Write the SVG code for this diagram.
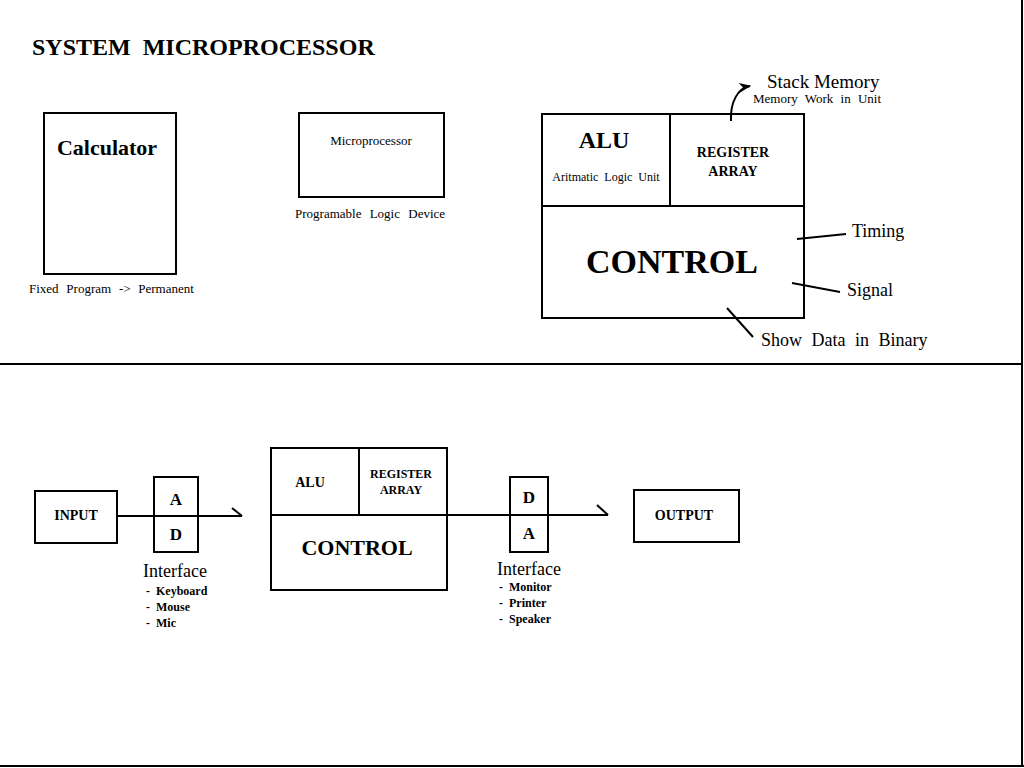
<svg xmlns="http://www.w3.org/2000/svg" width="1024" height="768" viewBox="0 0 1024 768">
<defs>
<style>
.box{fill:none;stroke:#000;stroke-width:2}
.ln{fill:none;stroke:#000;stroke-width:2}
.t{font-family:"Liberation Serif","Times New Roman",serif;fill:#000}
.b{font-weight:bold}
.c{text-anchor:middle}
</style>
<marker id="ah" viewBox="0 0 10 10" refX="9" refY="5" markerWidth="6" markerHeight="6" orient="auto">
<path d="M0,1 L10,5 L0,9 L3,5 Z" fill="#000"/>
</marker>
</defs>
<rect x="0" y="0" width="1024" height="768" fill="#fff"/>
<line x1="1022" y1="0" x2="1022" y2="766" class="ln"/>
<line x1="0" y1="766" x2="1024" y2="766" class="ln"/>
<line x1="0" y1="364" x2="1022" y2="364" class="ln"/>
<text class="t b" x="32" y="55" font-size="24" word-spacing="6">SYSTEM MICROPROCESSOR</text>

<g id="calculator">
<rect class="box" x="44" y="113" width="132" height="161"/>
<text class="t b c" x="107" y="155" font-size="22">Calculator</text>
<text class="t" x="29" y="293" font-size="13" word-spacing="4.5">Fixed Program -&gt; Permanent</text>
</g>

<g id="microprocessor">
<rect class="box" x="299" y="113" width="145" height="84"/>
<text class="t c" x="371" y="145" font-size="13">Microprocessor</text>
<text class="t" x="295" y="218" font-size="13" word-spacing="5">Programable Logic Device</text>
</g>

<g id="cpu-top">
<rect class="box" x="542" y="114" width="262" height="204"/>
<line class="ln" x1="542" y1="206" x2="804" y2="206"/>
<line class="ln" x1="670" y1="114" x2="670" y2="206"/>
<text class="t b c" x="604" y="148" font-size="24">ALU</text>
<text class="t c" x="606" y="181" font-size="12" word-spacing="3">Aritmatic Logic Unit</text>
<text class="t b c" x="733" y="157" font-size="14">REGISTER</text>
<text class="t b c" x="733" y="176" font-size="14">ARRAY</text>
<text class="t b c" x="672" y="273" font-size="34">CONTROL</text>
</g>

<g id="annotations">
<text class="t" x="767" y="88" font-size="19">Stack Memory</text>
<text class="t" x="753" y="103" font-size="13" word-spacing="4">Memory Work in Unit</text>
<text class="t" x="852" y="237" font-size="18">Timing</text>
<text class="t" x="847" y="296" font-size="18">Signal</text>
<text class="t" x="761" y="346" font-size="18" word-spacing="5">Show Data in Binary</text>
</g>

<g id="input">
<rect class="box" x="35" y="491" width="82" height="52"/>
<text class="t b c" x="76" y="520" font-size="14">INPUT</text>
</g>

<g id="ad-interface">
<rect class="box" x="154" y="477" width="44" height="75"/>
<text class="t b c" x="176" y="505" font-size="17">A</text>
<text class="t b c" x="176" y="540" font-size="17">D</text>
<text class="t" x="143" y="577" font-size="18">Interface</text>
<text class="t b" x="146" y="595" font-size="12" xml:space="preserve">-  Keyboard</text>
<text class="t b" x="146" y="611" font-size="12" xml:space="preserve">-  Mouse</text>
<text class="t b" x="146" y="627" font-size="12" xml:space="preserve">-  Mic</text>
</g>

<g id="cpu-bottom">
<rect class="box" x="271" y="448" width="176" height="142"/>
<line class="ln" x1="271" y1="515" x2="447" y2="515"/>
<line class="ln" x1="359" y1="448" x2="359" y2="515"/>
<text class="t b c" x="310" y="487" font-size="14">ALU</text>
<text class="t b c" x="401" y="478" font-size="12">REGISTER</text>
<text class="t b c" x="401" y="494" font-size="12">ARRAY</text>
<text class="t b c" x="357" y="555" font-size="22">CONTROL</text>
</g>

<g id="da-interface">
<rect class="box" x="510" y="477" width="38" height="75"/>
<text class="t b c" x="529" y="503" font-size="17">D</text>
<text class="t b c" x="529" y="539" font-size="17">A</text>
<text class="t" x="497" y="575" font-size="18">Interface</text>
<text class="t b" x="499" y="591" font-size="12" xml:space="preserve">-  Monitor</text>
<text class="t b" x="499" y="607" font-size="12" xml:space="preserve">-  Printer</text>
<text class="t b" x="499" y="623" font-size="12" xml:space="preserve">-  Speaker</text>
</g>

<g id="output">
<rect class="box" x="634" y="490" width="105" height="52"/>
<text class="t b c" x="684" y="520" font-size="14">OUTPUT</text>
</g>

<g id="connectors">
<path class="ln" d="M731,121 C730,102 738,88 750,86" marker-end="url(#ah)"/>
<line class="ln" x1="797" y1="239" x2="846" y2="234"/>
<line class="ln" x1="792" y1="283" x2="840" y2="292"/>
<line class="ln" x1="727" y1="308" x2="753" y2="337"/>
<line class="ln" x1="117" y1="516" x2="242" y2="516"/>
<line class="ln" x1="232" y1="508" x2="242" y2="516"/>
<line class="ln" x1="447" y1="515" x2="608" y2="515"/>
<line class="ln" x1="597" y1="505" x2="608" y2="515"/>
</g>
</svg>
